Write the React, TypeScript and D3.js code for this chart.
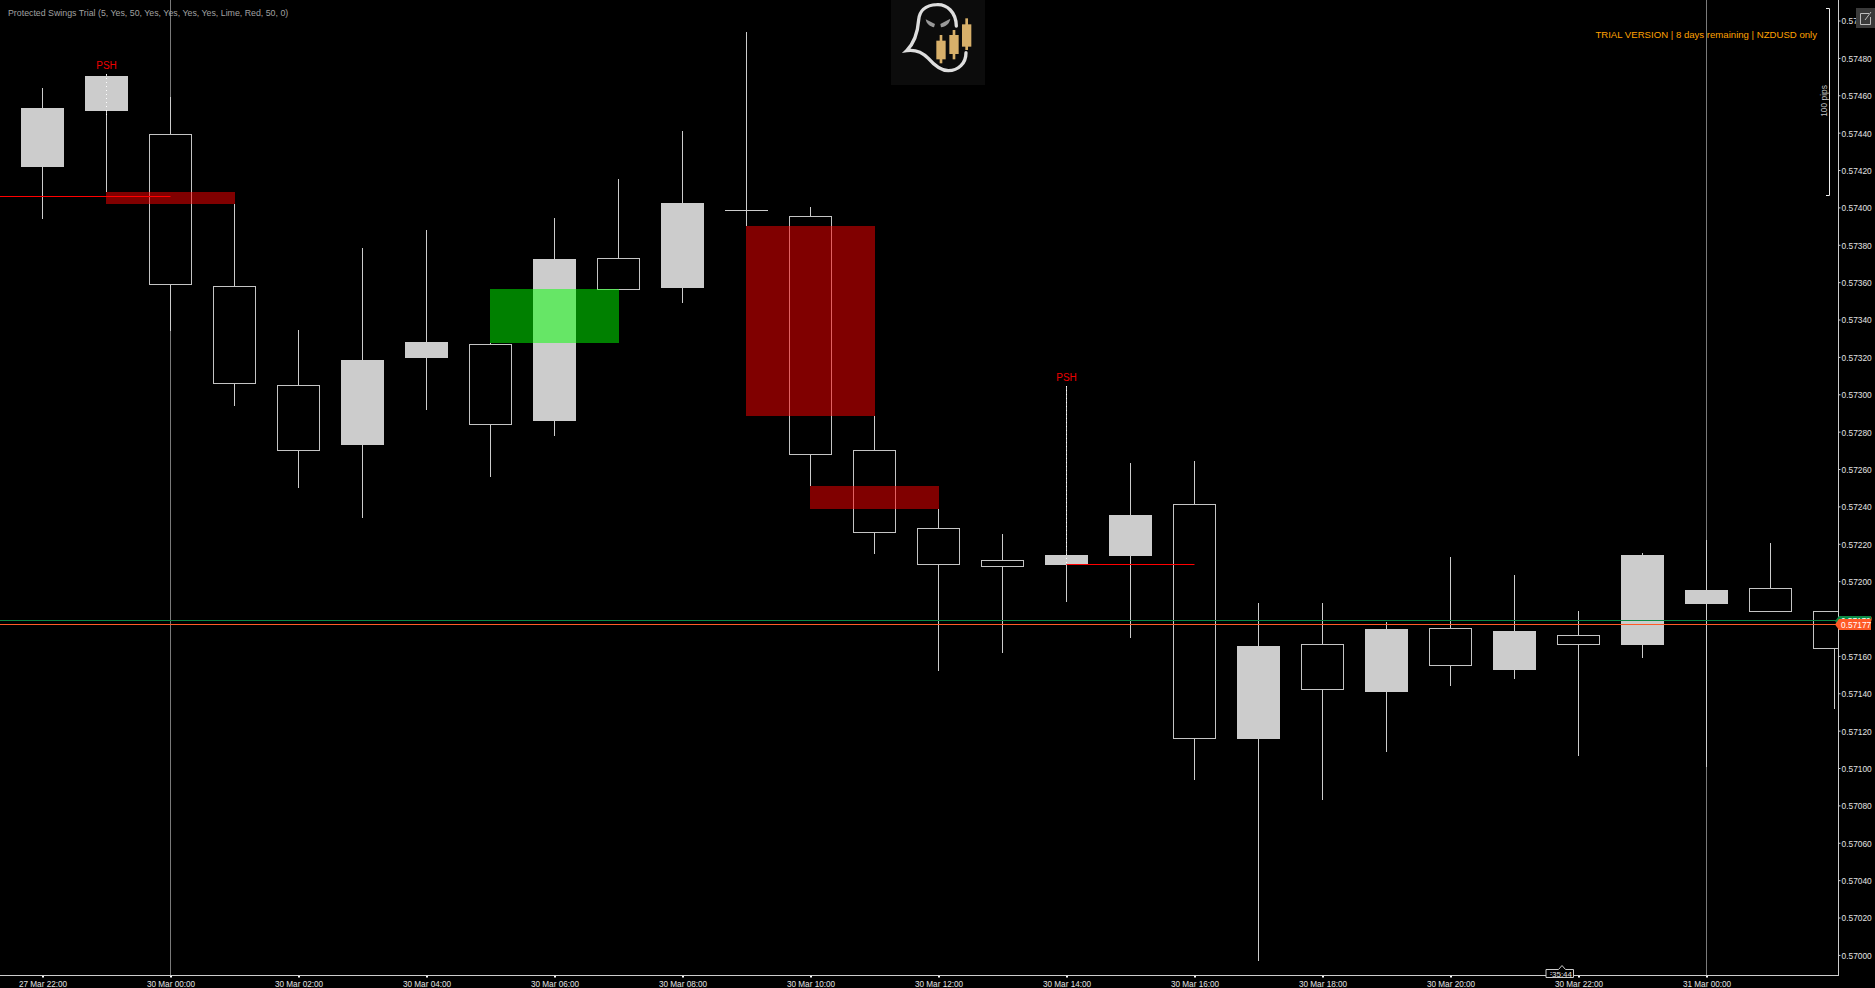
import { useEffect, useRef } from "react";
import * as d3 from "d3";

const W = 1875;
const H = 988;
const AXIS_X = 1838.5;
const AXIS_Y = 975.5;
const FONT = "'Liberation Sans', Arial, sans-serif";

// one bar per hour, 27 Mar 22:00 first. the last bar is still forming
const opens = [
  0.574215, 0.574514, 0.574389, 0.573576, 0.573048, 0.572729, 0.573194, 0.573268, 0.572857, 0.573726,
  0.573569, 0.573988, 0.57395, 0.5727, 0.572283, 0.572112, 0.572085, 0.572133, 0.572411, 0.571156,
  0.571662, 0.571407, 0.571748, 0.571523, 0.571711, 0.571657, 0.571878, 0.57196, 0.571837,
];
const closes = [
  0.57453, 0.574701, 0.573585, 0.573057, 0.5727, 0.573182, 0.573278, 0.572837, 0.573722, 0.573562,
  0.574022, 0.573988, 0.572677, 0.57226, 0.572087, 0.572078, 0.57214, 0.572353, 0.571157, 0.571652,
  0.571418, 0.571743, 0.571548, 0.571732, 0.57166, 0.572139, 0.571951, 0.571837, 0.571639,
];
const highs = [
  0.574637, 0.574714, 0.574591, 0.574018, 0.573342, 0.573781, 0.573877, 0.573276, 0.573942, 0.57415,
  0.574407, 0.574937, 0.574001, 0.572885, 0.572386, 0.572251, 0.573043, 0.572631, 0.572642, 0.571882,
  0.571882, 0.57178, 0.572128, 0.572032, 0.571839, 0.572151, 0.57222, 0.572204, 0.571837,
];
const lows = [
  0.573938, 0.574082, 0.573339, 0.572937, 0.5725, 0.57234, 0.572916, 0.572558, 0.572777, 0.573562,
  0.573488, 0.5739, 0.572509, 0.572146, 0.57152, 0.571616, 0.571889, 0.571698, 0.570936, 0.569968,
  0.570829, 0.571086, 0.571439, 0.571477, 0.571065, 0.571589, 0.571007, 0.571837, 0.571316,
];

const timeLabels = [
  "27 Mar 22:00", "30 Mar 00:00", "30 Mar 02:00", "30 Mar 04:00", "30 Mar 06:00", "30 Mar 08:00",
  "30 Mar 10:00", "30 Mar 12:00", "30 Mar 14:00", "30 Mar 16:00", "30 Mar 18:00", "30 Mar 20:00",
  "30 Mar 22:00", "31 Mar 00:00",
];
const daySeparators = [2, 26];
const priceTicks = d3.range(0, 26).map((i) => (57000 + i * 20) / 100000);

// protected swing zones, bar index to bar index
const zoneStart = [1, 7, 11, 12];
const zoneEnd = [3, 9, 13, 14];
const zoneTop = [0.574082, 0.573562, 0.5739, 0.572509];
const zoneBottom = [0.57402, 0.573276, 0.572885, 0.572386];
const zoneColor = ["#ff0000", "#00ff00", "#ff0000", "#ff0000"];

const swingFrom = [-1, 16];
const swingTo = [2, 18];
const swingPrice = [0.574059, 0.572088];
const pshBars = [1, 16];
const pshDotsTo = [0.574485, 0.572085];

const askPrice = 0.57179;
const bidPrice = 0.57177;

export default function App() {
  const svgRef = useRef<SVGSVGElement>(null);

  useEffect(() => {
    if (!svgRef.current) return;
    const svg = d3.select(svgRef.current);
    svg.selectAll("*").remove();

    const x = d3.scaleLinear().domain([0, 1]).range([42.5, 106.5]);
    const y = d3.scaleLinear().domain([0.574, 0.57]).range([207.4, 954.9]);
    const snap = (v: number) => Math.round(v);

    svg.append("rect").attr("width", W).attr("height", H).attr("fill", "#000");

    svg.append("defs").append("clipPath").attr("id", "plot")
      .append("rect").attr("width", AXIS_X).attr("height", AXIS_Y);
    const g = svg.append("g").attr("clip-path", "url(#plot)");

    // day separators
    g.selectAll(".sep").data(daySeparators).join("line")
      .attr("x1", (d) => x(d)).attr("x2", (d) => x(d))
      .attr("y1", 0).attr("y2", AXIS_Y)
      .attr("stroke", "#7a7a7a");

    // Candles
    const bars = d3.range(opens.length);
    g.selectAll(".wick-up").data(bars).join("line")
      .attr("x1", (i) => x(i)).attr("x2", (i) => x(i))
      .attr("y1", (i) => snap(y(highs[i])))
      .attr("y2", (i) => snap(y(Math.max(opens[i], closes[i]))))
      .attr("stroke", "#cccccc");
    g.selectAll(".wick-down").data(bars).join("line")
      .attr("x1", (i) => x(i)).attr("x2", (i) => x(i))
      .attr("y1", (i) => snap(y(Math.min(opens[i], closes[i]))))
      .attr("y2", (i) => snap(y(lows[i])))
      .attr("stroke", "#cccccc");

    g.selectAll(".body").data(bars).join("rect")
      .each(function (i) {
        const up = closes[i] >= opens[i];
        const top = y(Math.max(opens[i], closes[i]));
        const bottom = y(Math.min(opens[i], closes[i]));
        const r = d3.select(this);
        if (up) {
          r.attr("x", x(i) - 21.5).attr("y", snap(top))
            .attr("width", 43).attr("height", Math.max(1, snap(bottom) - snap(top)))
            .attr("fill", "#cccccc");
        } else {
          const t = Math.floor(top) + 0.5;
          r.attr("x", x(i) - 21).attr("y", t)
            .attr("width", 42).attr("height", Math.floor(bottom) + 0.5 - t)
            .attr("fill", "#000").attr("stroke", "#c4c4c4");
        }
      });

    // dotted swing marker on top of the wick
    g.selectAll(".psh-dots").data(pshBars).join("line")
      .attr("x1", (d) => x(d)).attr("x2", (d) => x(d))
      .attr("y1", (d) => snap(y(highs[d])))
      .attr("y2", (_, i) => snap(y(pshDotsTo[i])))
      .attr("stroke", "#ffffff")
      .attr("stroke-dasharray", "1,3");

    // Zones
    g.selectAll(".zone").data(zoneStart).join("rect")
      .attr("x", (d) => x(d) - 0.5)
      .attr("y", (_, i) => snap(y(zoneTop[i])))
      .attr("width", (d, i) => x(zoneEnd[i]) - x(d) + 1)
      .attr("height", (_, i) => snap(y(zoneBottom[i])) - snap(y(zoneTop[i])))
      .attr("fill", (_, i) => zoneColor[i])
      .attr("fill-opacity", 0.5);

    // swing lines
    g.selectAll(".swing").data(swingPrice).join("line")
      .attr("x1", (_, i) => x(swingFrom[i]))
      .attr("x2", (_, i) => x(swingTo[i]))
      .attr("y1", (d) => Math.floor(y(d)) + 0.5)
      .attr("y2", (d) => Math.floor(y(d)) + 0.5)
      .attr("stroke", "#ff0000");

    g.selectAll(".psh").data(pshBars).join("text")
      .attr("x", (d) => x(d))
      .attr("y", (d) => y(highs[d]) - 5)
      .attr("text-anchor", "middle")
      .attr("font-family", FONT)
      .attr("font-size", 10)
      .attr("fill", "#ee0000")
      .text("PSH");

    // bid / ask lines
    g.append("line").attr("x1", 0).attr("x2", AXIS_X)
      .attr("y1", Math.floor(y(askPrice)) + 0.5).attr("y2", Math.floor(y(askPrice)) + 0.5)
      .attr("stroke", "#0b8a45");
    g.append("line").attr("x1", 0).attr("x2", AXIS_X)
      .attr("y1", Math.floor(y(bidPrice)) + 0.5).attr("y2", Math.floor(y(bidPrice)) + 0.5)
      .attr("stroke", "#ff5a26");

    // Axes
    const yAxis = svg.append("g")
      .attr("transform", `translate(${AXIS_X},0)`)
      .call(d3.axisRight(y).tickValues(priceTicks).tickFormat(d3.format(".5f") as any).tickSize(2).tickPadding(1));
    yAxis.select(".domain").remove();
    yAxis.selectAll("line").attr("stroke", "#cccccc");
    yAxis.selectAll("text").attr("font-family", FONT).attr("font-size", 8.4).attr("fill", "#e2e2e2").attr("dy", "0.4em");

    const xAxis = svg.append("g")
      .attr("transform", `translate(0,${AXIS_Y})`)
      .call(
        d3.axisBottom(x)
          .tickValues(timeLabels.map((_, i) => i * 2))
          .tickFormat((_, i) => timeLabels[i])
          .tickSize(2)
          .tickPadding(4)
      );
    xAxis.select(".domain").remove();
    xAxis.selectAll("line").attr("stroke", "#ffffff").attr("stroke-width", 2);
    xAxis.selectAll("text").attr("font-family", FONT).attr("font-size", 8.2).attr("fill", "#e2e2e2");

    svg.append("line").attr("x1", AXIS_X).attr("x2", AXIS_X).attr("y1", 0).attr("y2", AXIS_Y + 0.5).attr("stroke", "#cccccc");
    svg.append("line").attr("x1", 0).attr("x2", AXIS_X).attr("y1", AXIS_Y).attr("y2", AXIS_Y).attr("stroke", "#cccccc");

    // price tags. only the bid tag carries readable text, the ask tag is mostly behind it
    const tag = (price: number, fill: string, top: number, h: number, size: number) => {
      const t = snap(y(price)) + top;
      svg.append("path")
        .attr("d", `M1835,${t + h / 2}L1839,${t}H1871V${t + h}H1839Z`)
        .attr("fill", fill);
      svg.append("text")
        .attr("x", 1841).attr("y", t + h / 2 + 3)
        .attr("font-family", FONT).attr("font-size", size).attr("fill", "#ffffff")
        .text(d3.format(".5f")(price));
    };
    tag(askPrice, "#0b8a45", -4, 10, 8.2);
    tag(bidPrice, "#ff5a26", -5, 11, 8.4);

    // 100 pip ruler
    const rulerTop = 8.5;
    const rulerBottom = 195.5;
    svg.append("path")
      .attr("d", `M1826,${rulerTop}H1829.5V${rulerBottom}H1826`)
      .attr("fill", "none").attr("stroke", "#eeeeee");
    svg.append("text")
      .attr("transform", "translate(1827,101) rotate(-90)")
      .attr("text-anchor", "middle")
      .attr("font-family", FONT).attr("font-size", 8.4).attr("fill", "#c4c4c4")
      .text("100 pips");

    // texts
    svg.append("text").attr("x", 8).attr("y", 16)
      .attr("font-family", FONT).attr("font-size", 8.8).attr("fill", "#a0a0a0")
      .text("Protected Swings Trial (5, Yes, 50, Yes, Yes, Yes, Yes, Lime, Red, 50, 0)");
    svg.append("text").attr("x", 1817).attr("y", 38).attr("text-anchor", "end")
      .attr("font-family", FONT).attr("font-size", 9.6).attr("fill", "#ffa000")
      .text("TRIAL VERSION | 8 days remaining | NZDUSD only");

    // countdown box
    const timer = svg.append("g");
    timer.append("path")
      .attr("d", "M1546,969.5H1558.5L1562,965.5L1565.5,969.5H1573.5V977.5H1546Z")
      .attr("fill", "#000").attr("stroke", "#cccccc");
    timer.append("text").attr("x", 1547).attr("y", 976.5)
      .attr("font-family", FONT).attr("font-size", 8).attr("fill", "#e2e2e2").text("⋮");
    timer.append("text").attr("x", 1552).attr("y", 977)
      .attr("font-family", FONT).attr("font-size", 8).attr("fill", "#e2e2e2").text("35:44");

    // corner button
    const btn = svg.append("g");
    btn.append("rect").attr("x", 1856).attr("y", 8).attr("width", 19).attr("height", 20).attr("fill", "#3a3a3a");
    btn.append("path").attr("d", "M1869,13.5H1860.5V24.5H1870.5V17M1865,20L1871,12")
      .attr("fill", "none").attr("stroke", "#bdbdbd");

    // logo
    svg.append("rect").attr("x", 891).attr("y", 0).attr("width", 94).attr("height", 85).attr("fill", "#0c0c0c");
    const logo = svg.append("g").attr("transform", "translate(880,0) scale(0.3333)");
    logo.append("path")
      .attr("d", "M229,78C228,35 200,12 170,14C135,15 118,35 116,60C113,100 102,130 80,152C105,148 125,155 145,175C165,198 185,212 205,212C235,212 258,190 258,158")
      .attr("fill", "none").attr("stroke", "#dedede").attr("stroke-width", 10).attr("stroke-linecap", "round");
    logo.append("path").attr("d", "M137,58L165,72L162,82C150,80 140,72 137,58Z").attr("fill", "#999999");
    logo.append("path").attr("d", "M211,56L181,72L183,82C197,80 208,72 211,56Z").attr("fill", "#999999");
    const logoCandles = [[183, 105, 122, 178, 190], [222, 90, 105, 162, 178], [260, 55, 73, 140, 150]];
    logoCandles.forEach(([cx, hi, top, bot, lo]) => {
      logo.append("line").attr("x1", cx).attr("x2", cx).attr("y1", hi).attr("y2", lo)
        .attr("stroke", "#d8b06a").attr("stroke-width", 8);
      logo.append("rect").attr("x", cx - 14).attr("y", top).attr("width", 28).attr("height", bot - top)
        .attr("fill", "#d8b06a");
    });
  }, []);

  return (
    <svg
      ref={svgRef}
      width={W}
      height={H}
      style={{ position: "absolute", left: 0, top: 0, display: "block" }}
    />
  );
}
